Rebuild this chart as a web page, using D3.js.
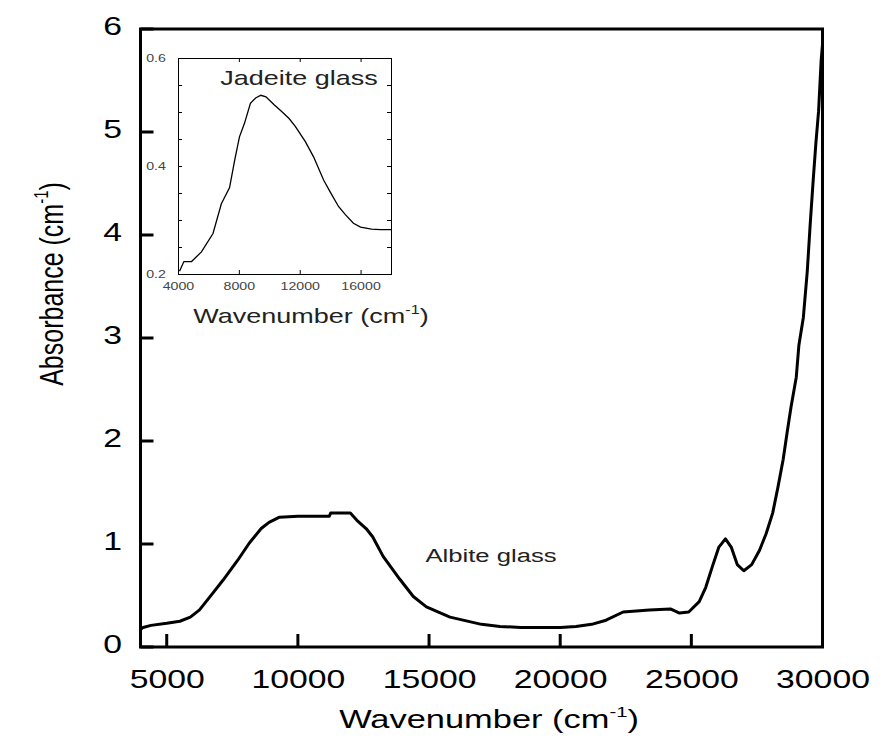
<!DOCTYPE html>
<html>
<head>
<meta charset="utf-8">
<script src="https://cdn.jsdelivr.net/npm/d3@7"></script>
<style>
  body { margin: 0; background: #fff; }
  text { font-family: "Liberation Sans", Arial, Helvetica, sans-serif; }
</style>
</head>
<body>
<div id="chart-area"></div>
<script>
// albite glass spectrum (main plot)
const albiteWavenumber = [4000, 4100, 4400, 5000, 5500, 5900, 6250, 6750, 7150, 7700,
  8150, 8600, 8900, 9300, 10000, 11200, 11250, 12000, 12250, 12600,
  12850, 13250, 13880, 14400, 14900, 15800, 17000, 17700, 18500, 20000,
  20600, 21200, 21750, 22400, 23400, 24200, 24550, 24900, 25300, 25550,
  25800, 26050, 26300, 26520, 26750, 27000, 27300, 27600, 27850, 28100,
  28300, 28500, 28650, 28800, 29000, 29100, 29270, 29420, 29530, 29650,
  29750, 29850, 29950, 30000]
const albiteAbsorbance = [0.17, 0.19, 0.21, 0.23, 0.25, 0.29, 0.36, 0.52, 0.65, 0.84,
  1.01, 1.15, 1.21, 1.26, 1.27, 1.27, 1.30, 1.30, 1.23, 1.15,
  1.07, 0.88, 0.66, 0.49, 0.39, 0.29, 0.22, 0.20, 0.19, 0.19,
  0.20, 0.22, 0.26, 0.34, 0.36, 0.37, 0.33, 0.34, 0.44, 0.58,
  0.78, 0.97, 1.05, 0.97, 0.80, 0.74, 0.80, 0.94, 1.10, 1.30,
  1.55, 1.82, 2.08, 2.33, 2.62, 2.93, 3.20, 3.65, 4.10, 4.55,
  4.90, 5.20, 5.70, 5.85]

// jadeite glass spectrum (inset)
const jadeiteWavenumber = [4100, 4240, 4390, 4890, 5540, 6300, 6850, 7390, 7720, 8040,
  8370, 8760, 9100, 9450, 9780, 10300, 10850, 11300, 11720, 12370,
  12910, 13570, 14000, 14550, 15000, 15530, 16000, 16720, 17300, 18000]
const jadeiteAbsorbance = [0.205, 0.214, 0.223, 0.223, 0.241, 0.275, 0.33, 0.36, 0.41, 0.454,
  0.479, 0.516, 0.526, 0.531, 0.528, 0.514, 0.50, 0.488, 0.473, 0.445,
  0.417, 0.374, 0.352, 0.325, 0.31, 0.294, 0.287, 0.283, 0.282, 0.282]

const mainXTicks = [5000, 10000, 15000, 20000, 25000, 30000]
const mainYTicks = [0, 1, 2, 3, 4, 5, 6]
const insetXTicks = [4000, 8000, 12000, 16000]
const insetYTicks = [0.2, 0.25, 0.3, 0.35, 0.4, 0.45, 0.5, 0.55, 0.6]
const insetYLabels = [0.2, 0.4, 0.6]

const WIDTH = 892
const HEIGHT = 748
const STRETCH = 1.35   // the figure's lettering is drawn wide

const svg = d3.select("#chart-area").append("svg")
      .attr("width", WIDTH)
      .attr("height", HEIGHT)

const x = d3.scaleLinear().domain([4000, 30000]).range([140.5, 822.5])
const y = d3.scaleLinear().domain([0, 6]).range([647, 29])

const albite = albiteWavenumber.map((w, i) => [w, albiteAbsorbance[i]])
const jadeite = jadeiteWavenumber.map((w, i) => [w, jadeiteAbsorbance[i]])

// X axis (labels from the axis, ticks drawn inside below)
const xAxis = svg.append("g")
      .attr("transform", `translate(0, ${y(0)})`)
      .call(d3.axisBottom(x).tickValues(mainXTicks).tickSize(0).tickPadding(23).tickFormat(d3.format("d")))
xAxis.select(".domain").remove()
xAxis.selectAll("text")
      .attr("font-size", 25)
      .attr("font-family", "Liberation Sans, Arial, sans-serif")
      .attr("fill", "#000")
      .attr("transform", `scale(${STRETCH},1)`)

// Y axis
const yAxis = svg.append("g")
      .attr("transform", `translate(${x(4000)}, 0)`)
      .call(d3.axisLeft(y).tickValues(mainYTicks).tickSize(0).tickPadding(13.7).tickFormat(d3.format("d")))
yAxis.select(".domain").remove()
yAxis.selectAll("text")
      .attr("font-size", 25)
      .attr("font-family", "Liberation Sans, Arial, sans-serif")
      .attr("fill", "#000")
      .attr("dy", "0.2em")
      .attr("transform", `scale(${STRETCH},1)`)

// inward tick marks
svg.append("g").selectAll("line")
      .data(mainXTicks)
      .enter().append("line")
      .attr("x1", d => x(d))
      .attr("x2", d => x(d))
      .attr("y1", y(0))
      .attr("y2", y(0) - 13)
      .attr("stroke", "#000")
      .attr("stroke-width", 3)
svg.append("g").selectAll("line")
      .data(mainYTicks)
      .enter().append("line")
      .attr("x1", x(4000))
      .attr("x2", x(4000) + 13)
      .attr("y1", d => y(d))
      .attr("y2", d => y(d))
      .attr("stroke", "#000")
      .attr("stroke-width", 3)

// frame
svg.append("rect")
      .attr("x", x(4000))
      .attr("y", y(6))
      .attr("width", x(30000) - x(4000))
      .attr("height", y(0) - y(6))
      .attr("fill", "none")
      .attr("stroke", "#000")
      .attr("stroke-width", 3)

// albite curve
svg.append("path")
      .datum(albite)
      .attr("fill", "none")
      .attr("stroke", "#000")
      .attr("stroke-width", 3)
      .attr("stroke-linejoin", "round")
      .attr("d", d3.line().x(d => x(d[0])).y(d => y(d[1])))

// X label
const xl = svg.append("g")
      .attr("transform", `translate(489, 728) scale(${STRETCH},1)`)
      .append("text")
      .attr("text-anchor", "middle")
      .attr("font-size", 25.5)
xl.append("tspan").text("Wavenumber (cm")
xl.append("tspan").attr("font-size", 15).attr("dy", -11).text("-1")
xl.append("tspan").attr("dy", 11).text(")")

// Y label
const yl = svg.append("g")
      .attr("transform", `translate(63, 284) scale(${STRETCH},1) rotate(-90)`)
      .append("text")
      .attr("text-anchor", "middle")
      .attr("font-size", 25)
yl.append("tspan").text("Absorbance (cm")
yl.append("tspan").attr("font-size", 15).attr("dy", -11).text("-1")
yl.append("tspan").attr("dy", 11).text(")")

svg.append("g")
      .attr("transform", `translate(491, 562) scale(${STRETCH},1)`)
      .append("text")
      .attr("text-anchor", "middle")
      .attr("font-size", 19)
      .attr("fill", "#222")
      .text("Albite glass")

// ---- inset ----
const ix = d3.scaleLinear().domain([4000, 18000]).range([178, 391])
const iy = d3.scaleLinear().domain([0.2, 0.6]).range([274, 58])
const inset = svg.append("g")

function styleInset(g, withText) {
      g.select(".domain").remove()
      g.selectAll("line").attr("stroke", "#000").attr("stroke-width", 1)
      if (withText) {
            g.selectAll("text")
                  .attr("font-size", 10.5)
                  .attr("fill", "#444")
                  .attr("font-family", "Liberation Sans, Arial, sans-serif")
                  .attr("transform", `scale(${STRETCH},1)`)
      } else {
            g.selectAll("text").remove()
      }
}

inset.append("g")
      .attr("transform", `translate(0, ${iy(0.2)})`)
      .call(d3.axisBottom(ix).tickValues(insetXTicks).tickSize(-4).tickPadding(8.5).tickFormat(d3.format("d")))
      .call(g => styleInset(g, true))
inset.append("g")
      .attr("transform", `translate(0, ${iy(0.6)})`)
      .call(d3.axisTop(ix).tickValues(insetXTicks).tickSize(-4))
      .call(g => styleInset(g, false))
inset.append("g")
      .attr("transform", `translate(${ix(4000)}, 0)`)
      .call(d3.axisLeft(iy).tickValues(insetYTicks).tickSize(-4).tickPadding(9)
            .tickFormat(d => insetYLabels.some(v => Math.abs(v - d) < 1e-9) ? d3.format(".1f")(d) : ""))
      .call(g => styleInset(g, true))
inset.append("g")
      .attr("transform", `translate(${ix(18000)}, 0)`)
      .call(d3.axisRight(iy).tickValues(insetYTicks).tickSize(-4))
      .call(g => styleInset(g, false))

inset.append("rect")
      .attr("x", ix(4000) + 0.5)
      .attr("y", iy(0.6) + 0.5)
      .attr("width", ix(18000) - ix(4000))
      .attr("height", iy(0.2) - iy(0.6))
      .attr("fill", "none")
      .attr("stroke", "#000")
      .attr("stroke-width", 1)

inset.append("path")
      .datum(jadeite)
      .attr("fill", "none")
      .attr("stroke", "#000")
      .attr("stroke-width", 1.3)
      .attr("d", d3.line().x(d => ix(d[0])).y(d => iy(d[1])))

inset.append("g")
      .attr("transform", `translate(299, 85) scale(${STRETCH},1)`)
      .append("text")
      .attr("text-anchor", "middle")
      .attr("font-size", 20)
      .attr("fill", "#222")
      .text("Jadeite glass")

const il = inset.append("g")
      .attr("transform", `translate(311, 323) scale(${STRETCH},1)`)
      .append("text")
      .attr("text-anchor", "middle")
      .attr("font-size", 20)
      .attr("fill", "#222")
il.append("tspan").text("Wavenumber (cm")
il.append("tspan").attr("font-size", 12).attr("dy", -9).text("-1")
il.append("tspan").attr("dy", 9).text(")")
</script>
</body>
</html>
